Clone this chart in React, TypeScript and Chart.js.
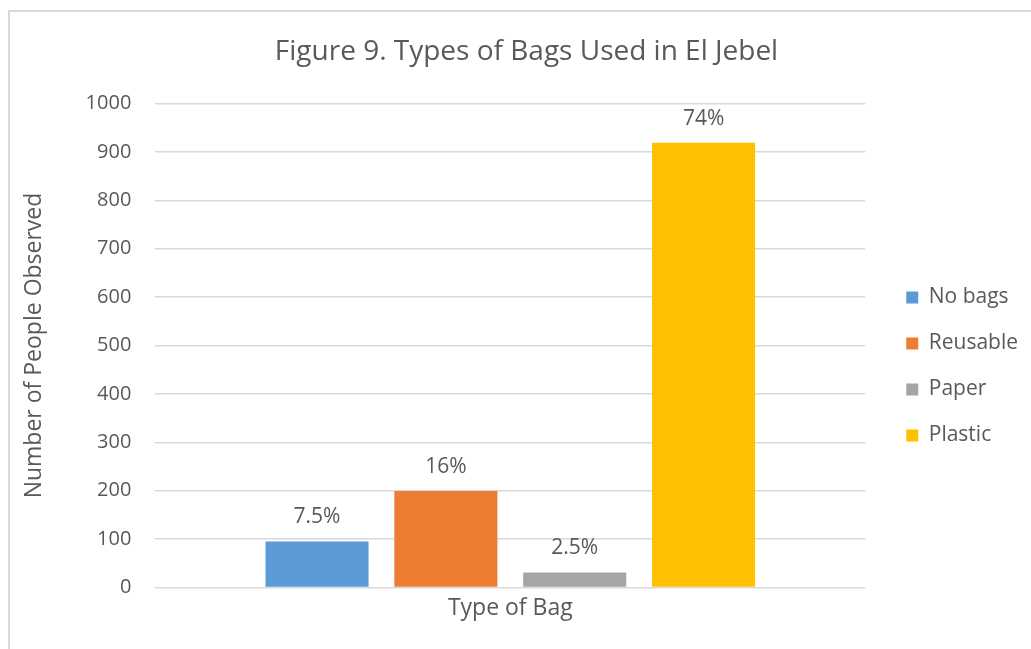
import React, { useEffect, useRef } from "react";
import { Chart, registerables } from "chart.js";

Chart.register(...registerables);

const categories = [""];
const seriesNames = ["No bags", "Reusable", "Paper", "Plastic"];
const seriesValues = [95, 199, 31, 919];
const seriesLabels = ["7.5%", "16%", "2.5%", "74%"];
const seriesColors = ["#5B9BD5", "#ED7D31", "#A5A5A5", "#FFC000"];
const yTicks = [0, 100, 200, 300, 400, 500, 600, 700, 800, 900, 1000];

const FONT = "'Open Sans', 'Liberation Sans', sans-serif";
const TEXT = "#595959";

const valueLabelPlugin = {
  id: "valueLabels",
  afterDatasetsDraw(chart: any) {
    const ctx = chart.ctx;
    ctx.save();
    ctx.font = `21px ${FONT}`;
    ctx.fillStyle = TEXT;
    ctx.textAlign = "center";
    ctx.textBaseline = "middle";
    chart.data.datasets.forEach((ds: any, i: number) => {
      const meta = chart.getDatasetMeta(i);
      meta.data.forEach((el: any) => {
        ctx.fillText(seriesLabels[i], el.x, el.y - 24);
      });
    });
    ctx.restore();
  },
};

const layoutShiftPlugin = {
  id: "layoutShift",
  afterLayout(chart: any) {
    const lg = chart.legend;
    if (lg) {
      const dx = 16;
      const dy = 41;
      lg.left += dx;
      lg.right += dx;
      lg.top += dy;
      lg.bottom += dy;
    }
    const tb = chart.titleBlock;
    if (tb) {
      tb.left += 10;
      tb.right += 10;
    }
  },
};

export default function App() {
  const ref = useRef<HTMLCanvasElement | null>(null);
  useEffect(() => {
    if (!ref.current) return;
    const chart = new Chart(ref.current, {
      type: "bar",
      data: {
        labels: categories,
        datasets: seriesNames.map((name, i) => ({
          label: name,
          data: [seriesValues[i]],
          backgroundColor: seriesColors[i],
          borderWidth: 0,
          categoryPercentage: 0.726,
          barPercentage: 0.8,
        })),
      },
      options: {
        animation: false,
        responsive: false,
        maintainAspectRatio: false,
        layout: { padding: { left: 21, right: 19, top: 29, bottom: 27 } },
        plugins: {
          title: {
            display: true,
            text: "Figure 9. Types of Bags Used in El Jebel",
            color: TEXT,
            font: { family: FONT, size: 28, weight: "normal" },
            padding: { top: 6, bottom: 35 },
          },
          legend: {
            position: "right",
            align: "center",
            labels: {
              color: TEXT,
              font: { family: FONT, size: 21 },
              boxWidth: 12,
              boxHeight: 12,
              padding: 25,
            },
          },
          tooltip: { enabled: false },
        },
        scales: {
          x: {
            grid: { display: false, drawTicks: false },
            border: { display: false },
            ticks: { display: false },
            title: {
              display: true,
              text: "Type of Bag",
              color: TEXT,
              font: { family: FONT, size: 23 },
              padding: { top: 7, bottom: 0 },
            },
          },
          y: {
            min: 0,
            max: 1000,
            afterBuildTicks: (axis: any) => {
              axis.ticks = yTicks.map((v) => ({ value: v }));
            },
            grid: { color: "#D9D9D9", lineWidth: 1.5, drawTicks: false },
            border: { display: false },
            ticks: {
              color: TEXT,
              font: { family: FONT, size: 20 },
              padding: 24,
              callback: (v: any) => String(v),
            },
            title: {
              display: true,
              text: "Number of People Observed",
              color: TEXT,
              font: { family: FONT, size: 23 },
              padding: { top: 0, bottom: 13 },
            },
          },
        },
      },
      plugins: [valueLabelPlugin, layoutShiftPlugin],
    });
    return () => chart.destroy();
  }, []);

  return (
    <div style={{ position: "fixed", left: 0, top: 0, width: 1031, height: 649, background: "#fff", overflow: "hidden" }}>
      <div
        style={{
          position: "absolute",
          left: 8,
          top: 10,
          width: 1100,
          height: 700,
          borderLeft: "2px solid #D9D9D9",
          borderTop: "2px solid #D9D9D9",
        }}
      />
      <canvas ref={ref} width={1031} height={649} style={{ position: "absolute", left: 0, top: 0 }} />
    </div>
  );
}
